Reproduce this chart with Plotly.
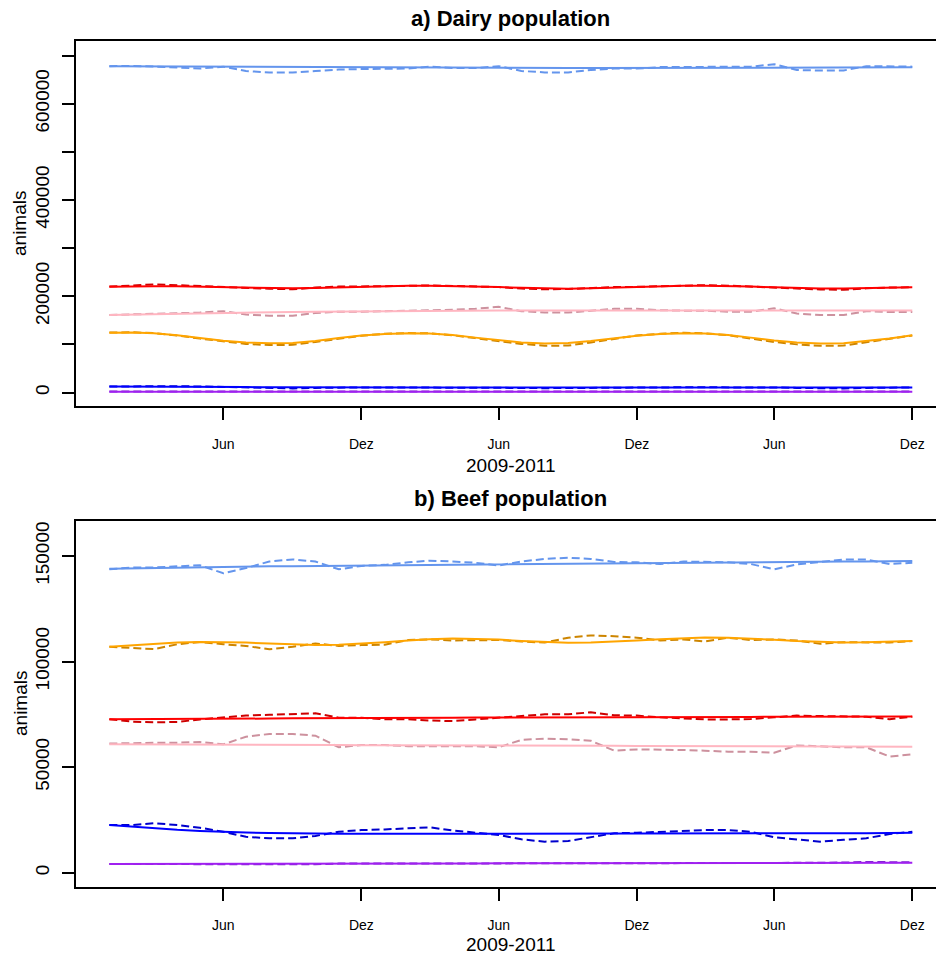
import plotly.graph_objects as go
import pandas as pd

# ---------------- data ----------------
months = pd.date_range("2009-01-01", periods=36, freq="MS")
tick_dates = ["2009-06-01", "2009-12-01", "2010-06-01", "2010-12-01", "2011-06-01", "2011-12-01"]
tick_text = ["Jun", "Dez", "Jun", "Dez", "Jun", "Dez"]

dairy_yticks = [0, 100000, 200000, 300000, 400000, 500000, 600000, 700000]
dairy_ytext = ["0", "", "200000", "", "400000", "", "600000", ""]
beef_yticks = [0, 50000, 100000, 150000]
beef_ytext = ["0", "50000", "100000", "150000"]

# Dairy population (solid = model, dashed = observed)
dairy_lightblue_solid = [678000, 677800, 677400, 677000, 676500, 676000, 675600, 675200, 675000, 674800, 674600, 674500,
                         674500, 674400, 674400, 674300, 674300, 674200, 674200, 674100, 674100, 674100, 674200, 674300,
                         674400, 674500, 674600, 674700, 674800, 674900, 675000, 675100, 675200, 675300, 675400, 675500]
dairy_lightblue_dash = [678000, 678500, 677000, 675000, 673000, 677000, 668000, 665000, 665000, 668000, 671000, 672000,
                        673000, 673000, 677000, 674000, 674000, 678000, 668000, 665000, 665000, 670000, 673000, 673000,
                        676000, 676000, 677000, 677000, 677000, 682000, 670000, 669000, 669000, 678000, 677000, 677000]
dairy_red_solid = [219500, 220500, 221000, 220500, 219500, 218500, 217500, 216500, 216500, 217000, 218500, 219500,
                   221000, 222000, 222000, 221500, 220500, 219000, 217500, 216000, 215500, 216500, 218000, 219500,
                   221000, 222000, 222000, 221500, 220000, 218500, 217000, 216000, 216000, 217000, 218000, 218500]
dairy_red_dash = [220000, 222000, 224500, 223000, 221000, 220000, 218000, 215500, 214500, 218000, 220000, 220000,
                  221000, 221500, 222500, 221500, 220500, 219000, 216000, 214500, 215000, 217000, 219000, 219500,
                  221000, 222500, 223000, 222000, 220000, 219000, 217000, 214000, 213500, 216500, 218000, 218500]
dairy_pink_solid = [161000, 162000, 163000, 164000, 165000, 166000, 166500, 167000, 167500, 168000, 168500, 169000,
                    169500, 170000, 170000, 170000, 170500, 170500, 170500, 170500, 170500, 170500, 170500, 170500,
                    170500, 170500, 170500, 170500, 170500, 170500, 170500, 170500, 170500, 170500, 170500, 170500]
dairy_pink_dash = [161000, 162000, 163000, 165000, 166000, 169000, 162000, 159500, 159500, 165000, 168000, 168000,
                   169000, 169000, 170000, 172000, 174000, 178000, 169000, 166000, 166000, 170000, 174000, 174000,
                   171000, 170000, 170000, 168000, 168000, 175000, 164000, 161000, 161000, 169000, 167000, 167000]
dairy_orange_solid = [124000, 124500, 123000, 119000, 113000, 107500, 104000, 102500, 103000, 107000, 113000, 118500,
                      121500, 123000, 122500, 119500, 114000, 108500, 104000, 102000, 103000, 107000, 112500, 118000,
                      121500, 123000, 122500, 119500, 114000, 108000, 104000, 102000, 102500, 106500, 112000, 119000]
dairy_orange_dash = [124500, 125000, 123500, 118500, 112000, 106000, 101000, 98500, 99000, 105000, 112000, 118000,
                     122000, 123500, 123000, 119000, 113000, 107000, 101000, 97000, 97500, 104000, 112000, 118500,
                     122000, 124000, 123000, 119000, 112000, 105000, 100000, 97000, 97500, 104000, 111000, 118500]
dairy_blue_solid = [12500, 12500, 12400, 12200, 12000, 11600, 11200, 10800, 10500, 10300, 10200, 10200,
                    10200, 10200, 10200, 10200, 10200, 10200, 10200, 10200, 10200, 10200, 10200, 10200,
                    10200, 10200, 10300, 10300, 10300, 10300, 10300, 10400, 10400, 10400, 10500, 10500]
dairy_blue_dash = [12500, 12800, 13500, 13000, 12500, 11500, 9500, 8500, 8500, 9500, 10500, 10500,
                   10500, 10500, 11000, 10800, 10500, 10500, 9500, 9000, 9000, 10000, 10500, 10500,
                   10500, 10800, 11000, 11000, 10800, 10500, 9500, 8500, 8500, 9500, 10200, 10500]
dairy_purple_solid = [1800, 1800, 1800, 1800, 1800, 1800, 1800, 1800, 1800, 1800, 1800, 1800,
                      1800, 1800, 1800, 1800, 1800, 1800, 1800, 1800, 1800, 1800, 1800, 1800,
                      1800, 1800, 1800, 1800, 1800, 1800, 1800, 1800, 1800, 1800, 1800, 1800]
dairy_purple_dash = [1900, 1900, 1800, 1800, 1800, 1700, 1600, 1600, 1700, 1800, 1800, 1900,
                     1900, 1900, 1800, 1800, 1800, 1700, 1600, 1600, 1700, 1800, 1800, 1900,
                     1900, 1900, 1800, 1800, 1800, 1700, 1600, 1600, 1700, 1800, 1800, 1900]

# Beef population
beef_lightblue_solid = [144000, 144200, 144400, 144500, 144700, 144900, 145000, 145100, 145200, 145300, 145400, 145500,
                        145600, 145700, 145900, 146000, 146100, 146200, 146300, 146400, 146500, 146600, 146700, 146800,
                        146800, 146900, 147000, 147000, 147100, 147200, 147200, 147300, 147400, 147400, 147500, 147600]
beef_lightblue_dash = [143700, 144600, 144600, 145200, 145600, 141800, 144300, 147400, 148400, 147400, 143700, 145300,
                       145800, 147000, 147800, 147400, 146800, 145500, 147400, 148600, 149200, 148600, 147200, 147000,
                       146200, 147400, 147200, 147000, 146200, 143700, 146000, 147200, 148300, 148300, 146200, 146800]
beef_orange_solid = [107000, 107800, 108500, 109000, 109300, 109300, 109000, 108500, 108000, 107800, 108000, 108500,
                     109200, 110000, 110600, 110900, 110800, 110400, 109800, 109200, 108900, 109000, 109400, 110000,
                     110600, 111100, 111400, 111300, 110900, 110300, 109700, 109200, 109000, 109100, 109400, 109800]
beef_orange_dash = [107000, 106600, 105900, 108200, 109300, 108200, 107400, 105800, 107000, 108600, 107400, 107800,
                    108000, 110200, 110500, 110000, 110200, 110200, 109500, 109000, 111300, 112400, 112000, 111300,
                    110000, 110500, 109500, 111300, 110200, 110500, 110000, 108400, 109200, 109000, 109000, 109700]
beef_red_solid = [72700, 72700, 72800, 72800, 72900, 72900, 73000, 73000, 73100, 73100, 73200, 73200,
                  73300, 73300, 73400, 73400, 73500, 73500, 73500, 73600, 73600, 73600, 73700, 73700,
                  73700, 73800, 73800, 73800, 73800, 73900, 73900, 73900, 73900, 74000, 74000, 74000]
beef_red_dash = [72700, 71500, 71200, 71400, 72600, 73400, 74400, 74800, 75000, 75500, 73400, 73400,
                 72700, 72700, 72100, 71800, 72600, 73400, 74400, 75000, 75000, 76000, 74600, 74400,
                 73600, 73200, 72600, 72600, 72800, 73600, 74400, 74200, 73900, 73900, 72700, 73900]
beef_pink_solid = [60800, 60800, 60800, 60700, 60700, 60700, 60600, 60600, 60500, 60500, 60500, 60400,
                   60400, 60400, 60300, 60300, 60300, 60200, 60200, 60200, 60100, 60100, 60100, 60000,
                   60000, 60000, 59900, 59900, 59900, 59800, 59800, 59800, 59800, 59700, 59700, 59700]
beef_pink_dash = [61200, 61200, 61500, 61600, 61900, 60800, 64400, 65700, 65700, 64900, 59400, 60500,
                  60500, 59900, 59900, 59900, 59900, 59400, 62900, 63500, 63200, 62500, 57800, 58400,
                  58400, 58100, 57800, 57300, 57300, 56800, 60300, 59900, 59400, 59400, 55000, 56100]
beef_blue_solid = [22600, 21800, 21000, 20300, 19800, 19300, 19000, 18800, 18600, 18500, 18400, 18400,
                   18400, 18400, 18400, 18400, 18400, 18500, 18500, 18500, 18500, 18500, 18500, 18500,
                   18600, 18600, 18600, 18600, 18600, 18600, 18600, 18600, 18700, 18700, 18800, 18900]
beef_blue_dash = [22600, 22600, 23400, 22600, 21300, 19400, 17000, 16300, 16300, 17400, 19400, 20200,
                  20500, 21000, 21500, 20000, 18900, 17900, 15800, 14700, 15000, 16800, 18700, 18900,
                  19400, 19900, 20200, 20200, 19400, 16800, 15600, 14700, 15600, 16300, 18300, 19400]
beef_purple_solid = [4100, 4100, 4100, 4200, 4200, 4200, 4200, 4300, 4300, 4300, 4300, 4300,
                     4400, 4400, 4400, 4400, 4400, 4500, 4500, 4500, 4500, 4500, 4500, 4600,
                     4600, 4600, 4600, 4600, 4600, 4600, 4700, 4700, 4700, 4700, 4700, 4700]
beef_purple_dash = [4100, 4100, 4100, 4200, 4200, 4000, 3900, 3900, 3900, 4000, 4300, 4300,
                    4400, 4400, 4400, 4400, 4400, 4500, 4500, 4500, 4500, 4500, 4500, 4600,
                    4600, 4600, 4600, 4600, 4600, 4600, 4700, 4700, 4800, 5100, 5100, 4900]

colors_solid = {"lightblue": "#6495ED", "red": "#FF0000", "pink": "#FFB6C1",
                "orange": "#FFA500", "blue": "#0000FF", "purple": "#A020F0"}
colors_dash = {"lightblue": "#6495ED", "red": "#CD0000", "pink": "#CD919E",
               "orange": "#CD8500", "blue": "#0000CD", "purple": "#7D26CD"}

dairy = {
    "lightblue": (dairy_lightblue_solid, dairy_lightblue_dash),
    "red": (dairy_red_solid, dairy_red_dash),
    "pink": (dairy_pink_solid, dairy_pink_dash),
    "orange": (dairy_orange_solid, dairy_orange_dash),
    "blue": (dairy_blue_solid, dairy_blue_dash),
    "purple": (dairy_purple_solid, dairy_purple_dash),
}
beef = {
    "lightblue": (beef_lightblue_solid, beef_lightblue_dash),
    "orange": (beef_orange_solid, beef_orange_dash),
    "red": (beef_red_solid, beef_red_dash),
    "pink": (beef_pink_solid, beef_pink_dash),
    "blue": (beef_blue_solid, beef_blue_dash),
    "purple": (beef_purple_solid, beef_purple_dash),
}

# ---------------- figure ----------------
W, H = 936, 954
FONT = "Liberation Sans, Arial, Helvetica, sans-serif"


def py(p):
    return 1 - p / H


fig = go.Figure()
for panel, (xa, ya) in ((dairy, ("x", "y")), (beef, ("x2", "y2"))):
    for name, (solid, dashed) in panel.items():
        fig.add_trace(go.Scatter(x=months, y=dashed, mode="lines", xaxis=xa, yaxis=ya,
                                 line=dict(color=colors_dash[name], width=2, dash="8px,4px"),
                                 showlegend=False, hoverinfo="skip"))
        fig.add_trace(go.Scatter(x=months, y=solid, mode="lines", xaxis=xa, yaxis=ya,
                                 line=dict(color=colors_solid[name], width=2),
                                 showlegend=False, hoverinfo="skip"))

xrange = ["2008-11-17 19:00", "2012-01-01 10:00"]
xcommon = dict(type="date", range=xrange, tickmode="array", tickvals=tick_dates, ticktext=tick_text,
               ticks="outside", ticklen=12, tickwidth=2, tickcolor="black",
               showline=True, linewidth=2, linecolor="black", mirror=True,
               showgrid=False, zeroline=False, tickfont=dict(size=14, color="black", family=FONT),
               ticklabelstandoff=12, fixedrange=True)
ycommon = dict(ticks="outside", ticklen=12, tickwidth=2, tickcolor="black", tickangle=-90,
               showline=True, linewidth=2, linecolor="black", mirror=False,
               showgrid=False, zeroline=False, tickfont=dict(size=19, color="black", family=FONT),
               ticklabelstandoff=5, tickmode="array", fixedrange=True)

fig.update_layout(
    width=W, height=H,
    margin=dict(l=76, r=0, t=0, b=0),
    paper_bgcolor="white", plot_bgcolor="white",
    font=dict(family=FONT, color="black"),
    xaxis=dict(**xcommon, anchor="y", domain=[0, 1]),
    yaxis=dict(**ycommon, anchor="x", domain=[py(406.3), py(41)], range=[-28670, 730270],
               tickvals=dairy_yticks, ticktext=dairy_ytext),
    xaxis2=dict(**xcommon, anchor="y2", domain=[0, 1]),
    yaxis2=dict(**ycommon, anchor="x2", domain=[py(886.7), py(521.3)], range=[-6631, 166437],
                tickvals=beef_yticks, ticktext=beef_ytext),
)

ann = []
xc = (510 - 76) / (W - 76)
xl = (20 - 76) / (W - 76)
ann.append(dict(text="<b>a) Dairy population</b>", x=xc, y=py(19), font=dict(size=22)))
ann.append(dict(text="<b>b) Beef population</b>", x=xc, y=py(498), font=dict(size=22)))
ann.append(dict(text="2009-2011", x=xc, y=py(465), font=dict(size=19)))
ann.append(dict(text="2009-2011", x=xc, y=py(944), font=dict(size=19)))
ann.append(dict(text="animals", x=xl, y=py(224), textangle=-90, font=dict(size=19)))
ann.append(dict(text="animals", x=xl, y=py(704), textangle=-90, font=dict(size=19)))
for a in ann:
    a.update(xref="paper", yref="paper", showarrow=False, xanchor="center", yanchor="middle")
    a["font"].update(family=FONT, color="black")
fig.update_layout(annotations=ann)

fig.write_html(
    "out.html",
    config={"displayModeBar": False, "staticPlot": True},
    post_script="document.body.style.margin='0';document.body.style.overflow='hidden';",
)
